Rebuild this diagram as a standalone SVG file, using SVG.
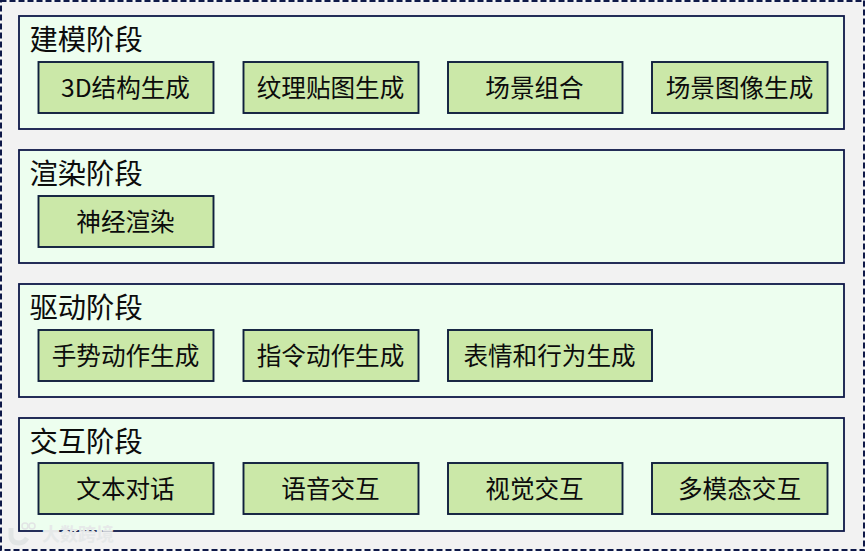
<svg xmlns="http://www.w3.org/2000/svg" width="865" height="551" viewBox="0 0 865 551">
<style>
text{font-family:"Noto Sans CJK SC","Noto Sans",sans-serif;fill:#0c0c0c}
.p{fill:#edfeef;stroke:#0e1848;stroke-width:1.8}
.b{fill:#cbe8a8;stroke:#0f1f3d;stroke-width:1.9}
.t{font-size:28.300px}
.l{font-size:24.600px;text-anchor:middle}
.wm{font-size:18px;fill:#e6e9e9;font-weight:700}
</style>
<rect id="background" x="0.5" y="0.5" width="864" height="550" fill="#f2f2f2" stroke="#0e1848" stroke-width="3" stroke-dasharray="6 3"/>
<g id="stage-modeling">
<rect class="p" x="19" y="16" width="825" height="113"/>
<text class="t" x="29.500" y="50">建模阶段</text>
</g>
<g id="node-3d"><rect class="b" x="38.500" y="62" width="175" height="51"/><text class="l" x="125.500" y="97">3D结构生成</text></g>
<g id="node-texture"><rect class="b" x="243.500" y="62" width="175" height="51"/><text class="l" x="330.500" y="97">纹理贴图生成</text></g>
<g id="node-scene"><rect class="b" x="448" y="62" width="174.500" height="51"/><text class="l" x="534.500" y="97">场景组合</text></g>
<g id="node-scene-image"><rect class="b" x="652" y="62" width="175.500" height="51"/><text class="l" x="739.500" y="97">场景图像生成</text></g>
<g id="stage-rendering">
<rect class="p" x="19" y="150" width="825" height="113"/>
<text class="t" x="29.500" y="184">渲染阶段</text>
</g>
<g id="node-neural"><rect class="b" x="38.500" y="196" width="175" height="51"/><text class="l" x="125.500" y="231">神经渲染</text></g>
<g id="stage-driving">
<rect class="p" x="19" y="284" width="825" height="113"/>
<text class="t" x="29.500" y="318">驱动阶段</text>
</g>
<g id="node-gesture"><rect class="b" x="38.500" y="330" width="175" height="51"/><text class="l" x="125.500" y="365">手势动作生成</text></g>
<g id="node-command"><rect class="b" x="243.500" y="330" width="175" height="51"/><text class="l" x="330.500" y="365">指令动作生成</text></g>
<g id="node-expression"><rect class="b" x="448" y="330" width="204" height="51"/><text class="l" x="549.500" y="365">表情和行为生成</text></g>
<g id="stage-interaction">
<rect class="p" x="19" y="418" width="825" height="113"/>
<text class="t" x="29.500" y="452">交互阶段</text>
</g>
<g id="node-text"><rect class="b" x="38.500" y="463" width="175" height="51"/><text class="l" x="125.500" y="498">文本对话</text></g>
<g id="node-voice"><rect class="b" x="243.500" y="463" width="175" height="51"/><text class="l" x="330.500" y="498">语音交互</text></g>
<g id="node-visual"><rect class="b" x="448" y="463" width="174.500" height="51"/><text class="l" x="534.500" y="498">视觉交互</text></g>
<g id="node-multimodal"><rect class="b" x="652" y="463" width="175.500" height="51"/><text class="l" x="739.500" y="498">多模态交互</text></g>
<g id="connectors"></g>
<g id="watermark">
<path d="M11 528v9q1 6 8 6 5 0 8-5" fill="none" stroke="#e2e5e5" stroke-width="5"/>
<circle cx="25" cy="526" r="3" fill="none" stroke="#e2e5e5" stroke-width="1.500"/>
<circle cx="32" cy="526" r="3" fill="none" stroke="#e2e5e5" stroke-width="1.500"/>
<text class="wm" x="42" y="541">大数跨境</text>
</g>
</svg>
